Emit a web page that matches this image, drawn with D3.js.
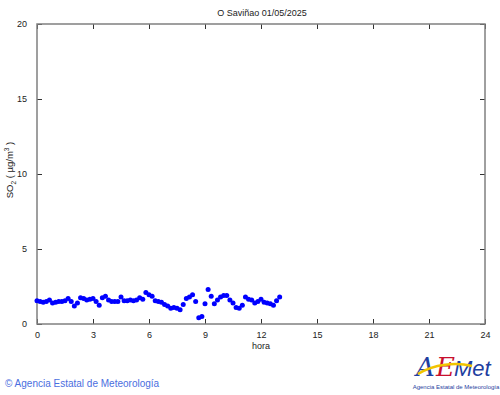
<!DOCTYPE html>
<html>
<head>
<meta charset="utf-8">
<script src="https://cdn.jsdelivr.net/npm/d3@7"></script>
<style>
  body { margin: 0; background: #fff; }
  svg { display: block; font-family: "Liberation Sans", Arial, sans-serif; }
</style>
</head>
<body>
<svg id="chart" width="500" height="395"></svg>
<script>
// SO2 readings every 10 minutes, from 00:00 to 13:00
var stepMinutes = 10;
var so2Values = [
  1.55, 1.5, 1.45, 1.5, 1.6, 1.4, 1.45, 1.5, 1.5, 1.55,
  1.7, 1.5, 1.2, 1.4, 1.75, 1.7, 1.6, 1.65, 1.7, 1.5,
  1.25, 1.75, 1.85, 1.6, 1.5, 1.5, 1.5, 1.8, 1.55, 1.55,
  1.6, 1.55, 1.6, 1.75, 1.65, 2.1, 1.95, 1.85, 1.55, 1.5,
  1.45, 1.3, 1.2, 1.05, 1.1, 1.05, 0.95, 1.3, 1.7, 1.8,
  1.95, 1.5, 0.42, 0.5, 1.35, 2.3, 1.85, 1.35, 1.6, 1.8,
  1.9, 1.9, 1.6, 1.4, 1.1, 1.05, 1.25, 1.8, 1.65, 1.6,
  1.4, 1.5, 1.65, 1.45, 1.4, 1.35, 1.25, 1.55, 1.8
];
var xTicks = [0, 3, 6, 9, 12, 15, 18, 21, 24];
var yTicks = [0, 5, 10, 15, 20];
var title = 'O Saviñao 01/05/2025';

var svg = d3.select('#chart');
// plot box edges (note: "top" is reserved by window, so use a box object)
var box = { left: 37, right: 485, top: 24, bottom: 324 };

var x = d3.scaleLinear().domain([0, 24]).range([box.left, box.right]);
var y = d3.scaleLinear().domain([0, 20]).range([box.bottom, box.top]);

var frameColor = '#808080';
var textColor = '#222';

// ticks pointing inwards, mirrored on both sides
var axes = [
  { gen: d3.axisBottom(x).tickValues(xTicks).tickSize(-5).tickPadding(8), at: [0, box.bottom], labels: true },
  { gen: d3.axisTop(x).tickValues(xTicks).tickSize(-5), at: [0, box.top], labels: false },
  { gen: d3.axisLeft(y).tickValues(yTicks).tickSize(-5).tickPadding(10), at: [box.left, 0], labels: true },
  { gen: d3.axisRight(y).tickValues(yTicks).tickSize(-5), at: [box.right, 0], labels: false }
];
axes.forEach(function (a) {
  let g = svg.append('g')
    .attr('transform', `translate(${a.at[0]},${a.at[1]})`)
    .call(a.gen);
  g.select('.domain').remove();
  g.selectAll('.tick line').attr('stroke', '#333');
  g.selectAll('.tick text')
    .attr('fill', textColor)
    .style('font-size', '9px')
    .style('display', a.labels ? null : 'none');
});

// plot frame
svg.append('rect')
  .attr('x', box.left).attr('y', box.top)
  .attr('width', box.right - box.left).attr('height', box.bottom - box.top)
  .attr('fill', 'none')
  .attr('stroke', frameColor)
  .attr('stroke-width', 1.5);

// points
svg.append('g').selectAll('circle')
  .data(so2Values)
  .enter().append('circle')
  .attr('cx', (d, i) => x(i * stepMinutes / 60))
  .attr('cy', d => y(d))
  .attr('r', 2.5)
  .attr('fill', '#0000ff');

// title and axis labels
svg.append('text')
  .attr('x', (box.left + box.right) / 2 + 1).attr('y', 16)
  .attr('text-anchor', 'middle')
  .attr('fill', textColor)
  .style('font-size', '9px')
  .text(title);

svg.append('text')
  .attr('x', (box.left + box.right) / 2).attr('y', 349)
  .attr('text-anchor', 'middle')
  .attr('fill', textColor)
  .style('font-size', '9px')
  .text('hora');

let yLabel = svg.append('text')
  .attr('transform', `translate(13,${(box.top + box.bottom) / 2 - 4}) rotate(-90)`)
  .attr('text-anchor', 'middle')
  .attr('fill', textColor)
  .style('font-size', '9.5px');
yLabel.append('tspan').text('SO');
yLabel.append('tspan').attr('dy', 3).style('font-size', '6.5px').text('2');
yLabel.append('tspan').attr('dy', -3).text(' ( µg/m');
yLabel.append('tspan').attr('dy', -4).style('font-size', '6.5px').text('3');
yLabel.append('tspan').attr('dy', 4).text(' )');

// footer credit
svg.append('text')
  .attr('x', 5).attr('y', 387)
  .attr('fill', '#4a6ee0')
  .style('font-size', '10px')
  .text('© Agencia Estatal de Meteorología');

// simple AEMET logo
let logo = svg.append('g').attr('transform', 'translate(416,352)');
logo.append('text')
  .attr('x', 0).attr('y', 24)
  .attr('fill', '#1f3fa0')
  .style('font-family', '"DejaVu Serif", serif')
  .style('font-style', 'italic')
  .style('font-size', '26px')
  .text('A');
logo.append('text')
  .attr('x', 20).attr('y', 24)
  .attr('fill', '#c8102e')
  .style('font-family', '"DejaVu Serif", serif')
  .style('font-style', 'italic')
  .style('font-size', '26px')
  .text('E');
logo.append('text')
  .attr('x', 38).attr('y', 24)
  .attr('fill', '#1f3fa0')
  .style('font-style', 'italic')
  .style('font-size', '22px')
  .text('Met');
logo.append('path')
  .attr('d', 'M2,22 C18,12 40,10 56,14')
  .attr('fill', 'none')
  .attr('stroke', '#f2c400')
  .attr('stroke-width', 2.5);
logo.append('text')
  .attr('x', 40).attr('y', 37)
  .attr('text-anchor', 'middle')
  .attr('fill', '#1f3fa0')
  .style('font-size', '6px')
  .text('Agencia Estatal de Meteorología');
</script>
</body>
</html>
